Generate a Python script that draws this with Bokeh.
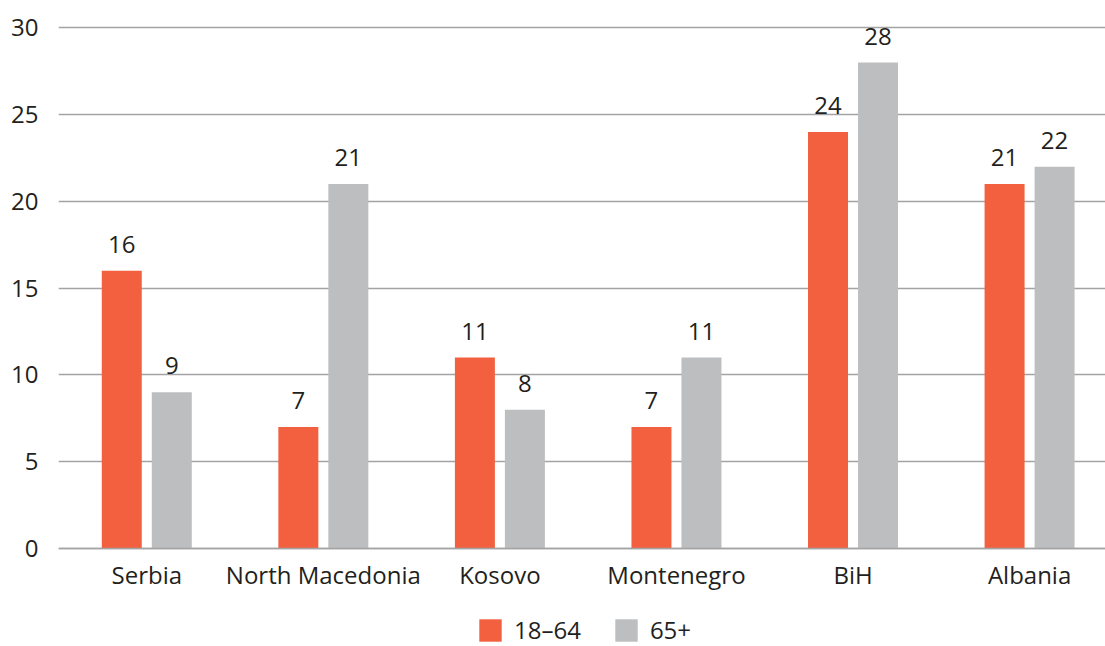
from bokeh.plotting import figure
from bokeh.models import (ColumnDataSource, Range1d, LabelSet,
                          Legend, LegendItem, FixedTicker)
from bokeh.core.properties import value
from bokeh.transform import dodge
from bokeh.embed import file_html
from bokeh.resources import INLINE

# Share of population by country and age group
countries = ["Serbia", "North Macedonia", "Kosovo", "Montenegro", "BiH", "Albania"]
age_18_64 = [16, 7, 11, 7, 24, 21]
age_65_plus = [9, 21, 8, 11, 28, 22]
series_names = ["18–64", "65+"]
y_ticks = [0, 5, 10, 15, 20, 25, 30]

ORANGE = "#F2603F"
GREY = "#BCBEC0"
GRID = "#A3A3A3"
INK = "#231F20"
FONT = "Open Sans"
SIZE = "24px"

BAR_W = 0.2265
OFFSET = 0.1416

slots = list(range(len(countries)))
src = ColumnDataSource(dict(
    slot=slots,
    country=countries,
    a=age_18_64,
    b=age_65_plus,
    a_txt=[str(v) for v in age_18_64],
    b_txt=[str(v) for v in age_65_plus],
))

# the frame runs to the bottom edge; the category axis is pinned at y = 0
p = figure(
    width=1105, height=646,
    x_range=Range1d(-0.5, 5.43),
    y_range=Range1d(-5.65, 30.6),
    output_backend="svg", toolbar_location=None,
    min_border_left=58, min_border_right=0,
    min_border_top=17, min_border_bottom=0,
)
p.outline_line_color = None
p.background_fill_color = "white"

r_a = p.vbar(x=dodge("slot", -OFFSET), top="a", bottom=0,
             width=BAR_W, source=src, fill_color=ORANGE, line_color=None)
r_b = p.vbar(x=dodge("slot", OFFSET), top="b", bottom=0,
             width=BAR_W, source=src, fill_color=GREY, line_color=None)

for col, txt, off in (("a", "a_txt", -OFFSET), ("b", "b_txt", OFFSET)):
    p.add_layout(LabelSet(
        x=dodge("slot", off), y=col, text=txt, source=src,
        text_align="center", text_baseline="alphabetic", y_offset=18,
        text_font=value(FONT), text_font_size=value(SIZE), text_color=INK,
    ))

# grid
p.xgrid.visible = False
p.ygrid.ticker = FixedTicker(ticks=y_ticks)
p.ygrid.grid_line_color = GRID
p.ygrid.grid_line_width = 1.5

# y axis
p.yaxis.ticker = FixedTicker(ticks=y_ticks)
p.yaxis.axis_line_color = None
p.yaxis.major_tick_line_color = None
p.yaxis.minor_tick_line_color = None
p.yaxis.major_label_standoff = 14
p.yaxis.major_label_text_font = FONT
p.yaxis.major_label_text_font_size = SIZE
p.yaxis.major_label_text_color = INK

# x axis: one tick per country, labelled with its name
p.xaxis.fixed_location = 0
p.xaxis.ticker = FixedTicker(ticks=slots)
p.xaxis.major_label_overrides = {s: c for s, c in zip(slots, countries)}
p.xaxis.axis_line_color = GRID
p.xaxis.axis_line_width = 1.5
p.xaxis.major_tick_line_color = None
p.xaxis.minor_tick_line_color = None
p.xaxis.major_label_standoff = 4
p.xaxis.major_label_text_font = FONT
p.xaxis.major_label_text_font_size = SIZE
p.xaxis.major_label_text_color = INK

# legend swatches are drawn inset by 10% of the glyph box
legend = Legend(
    items=[LegendItem(label=series_names[0], renderers=[r_a]),
           LegendItem(label=series_names[1], renderers=[r_b])],
    location=(418, 0), orientation="horizontal",
    glyph_width=28, glyph_height=28, label_standoff=10, spacing=31,
    padding=0, margin=0, border_line_color=None, background_fill_alpha=0,
    label_text_font=FONT, label_text_font_size=SIZE, label_text_color=INK,
)
p.add_layout(legend)

open("out.html", "w").write(file_html(p, INLINE))
